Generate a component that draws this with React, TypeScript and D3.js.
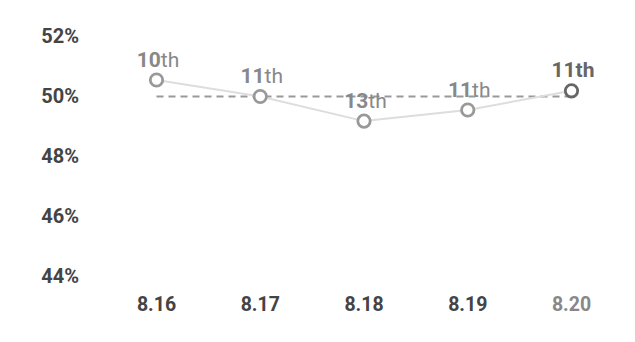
import React from "react";
import * as d3 from "d3";

const dates = ["8.16", "8.17", "8.18", "8.19", "8.20"];
const rates = [50.55, 50.0, 49.18, 49.55, 50.19];
const ranks = ["10", "11", "13", "11", "11"];
const yTicks = [44, 46, 48, 50, 52];
const refValue = 50;

const W = 635;
const H = 342;

export default function App() {
  const x = d3.scalePoint<string>().domain(dates).range([156.5, 571.5]);
  const y = d3.scaleLinear().domain([44, 52]).range([276.5, 36.5]);
  const line = d3
    .line<number>()
    .x((_, i) => x(dates[i]) as number)
    .y((d) => y(d));
  const font = "Roboto, 'Noto Sans', sans-serif";
  const last = rates.length - 1;
  return (
    <svg
      width={W}
      height={H}
      style={{ position: "absolute", left: 0, top: 0, background: "#fff" }}
      fontFamily={font}
    >
      {yTicks.map((t) => (
        <text
          key={t}
          x={79}
          y={y(t) + 1.5}
          textAnchor="end"
          dominantBaseline="middle"
          fontSize={20}
          fontWeight={700}
          fill="#444"
        >
          {t}%
        </text>
      ))}
      {dates.map((d, i) => (
        <text
          key={d}
          x={x(d) as number}
          y={311}
          textAnchor="middle"
          fontSize={19.5}
          fontWeight={700}
          fill={i === last ? "#888" : "#444"}
        >
          {d}
        </text>
      ))}
      <line
        x1={x(dates[0]) as number}
        x2={x(dates[last]) as number}
        y1={y(refValue)}
        y2={y(refValue)}
        stroke="#999"
        strokeWidth={1.8}
        strokeDasharray="7,5"
      />
      <path d={line(rates) || ""} fill="none" stroke="#ddd" strokeWidth={2} />
      {rates.map((v, i) => (
        <circle
          key={i}
          cx={x(dates[i]) as number}
          cy={y(v)}
          r={6.2}
          fill="#fff"
          stroke={i === last ? "#666" : "#999"}
          strokeWidth={2.8}
        />
      ))}
      {rates.map((v, i) => (
        <text
          key={i}
          x={(x(dates[i]) as number) + 1.5}
          y={y(v) - 13.5}
          textAnchor="middle"
          fontSize={21}
          fill={i === last ? "#666" : "#888"}
        >
          <tspan fontWeight={700}>{ranks[i]}</tspan>
          <tspan fontWeight={i === last ? 700 : 400}>th</tspan>
        </text>
      ))}
    </svg>
  );
}
